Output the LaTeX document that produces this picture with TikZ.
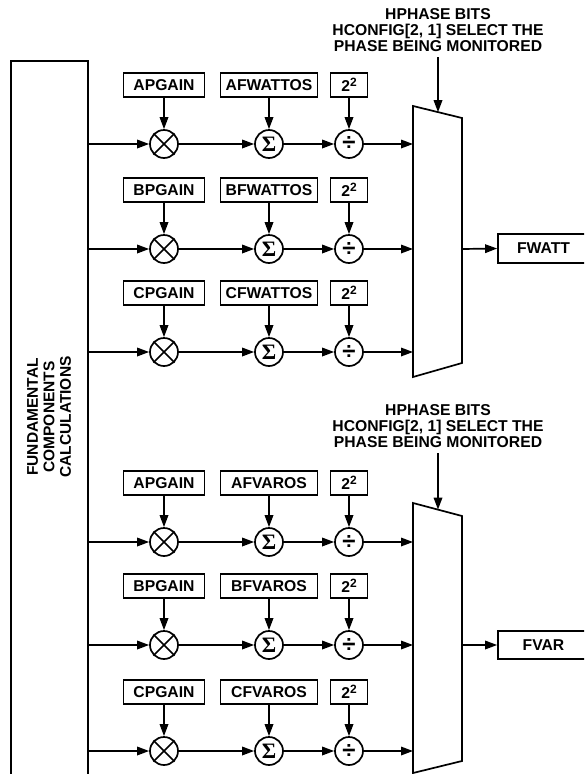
\documentclass[tikz,border=0pt]{standalone}
\usepackage{fontspec}
\setmainfont{Liberation Sans}
\newfontfamily\serifb{Liberation Serif}
\usetikzlibrary{arrows.meta}
\begin{document}
\begin{tikzpicture}[x=1pt,y=-1pt,line width=1.7pt,
  font=\fontsize{15.7}{16}\selectfont\bfseries,
  arr/.style={-{Triangle[length=12pt,width=8.5pt]}},
  reg/.style={draw,minimum height=24pt,inner sep=0pt},
  op/.style={draw,circle,minimum size=28pt,inner sep=0pt},
  lbl/.style={align=center,inner sep=0pt}]
\useasboundingbox (0,0) rectangle (584,774);
\clip (0,0) rectangle (584,774);
% left block (open at the bottom)
\draw (11,790) -- (11,61) -- (88,61) -- (88,790);
\node[lbl,rotate=90,font=\fontsize{15.5}{16.5}\selectfont\bfseries] (fcc) at (49,417)
  {FUNDAMENTAL\\COMPONENTS\\CALCULATIONS};
% rows
\foreach \i/\y/\g/\o in {1/144/APGAIN/AFWATTOS,2/249/BPGAIN/BFWATTOS,3/352/CPGAIN/CFWATTOS,
                         4/542/APGAIN/AFVAROS,5/645/BPGAIN/BFVAROS,6/751/CPGAIN/CFVAROS}{
  \node[op] (mul\i) at (164,\y) {};
  \draw (mul\i.north east) -- (mul\i.south west) (mul\i.north west) -- (mul\i.south east);
  \node[op] (sum\i) at (269,\y) {\serifb\fontsize{22}{22}\selectfont\bfseries Σ};
  \node[op] (div\i) at (349,\y) {\fontsize{24}{24}\selectfont ÷};
  \node[reg,minimum width=81pt] (gain\i) at (164,\y-59) {\g};
  \node[reg,minimum width=97pt] (os\i) at (269,\y-59) {\o};
  \node[reg,minimum width=37pt] (pw\i) at (349,\y-59) {2\raisebox{4.5pt}{\fontsize{12}{12}\selectfont 2}};
  \coordinate (in\i) at (88,\y);
  \coordinate (mx\i) at (413,\y);
  \draw[arr] (in\i) -- (mul\i);
  \draw[arr] (mul\i) -- (sum\i);
  \draw[arr] (sum\i) -- (div\i);
  \draw[arr] (div\i) -- (mx\i);
  \draw[arr] (gain\i) -- (mul\i);
  \draw[arr] (os\i) -- (sum\i);
  \draw[arr] (pw\i) -- (div\i);
}
% multiplexers
\draw (413,106) coordinate (m1tl) -- (462,118) -- (462,363) -- (413,377) -- cycle;
\draw (413,503) coordinate (m2tl) -- (462,516) -- (462,761) -- (413,773) -- cycle;
\coordinate (sel1) at (438,112.2);
\coordinate (sel2) at (438,509.6);
\coordinate (mo1) at (462,249);
\coordinate (mo2) at (462,645);
% select texts
\node[lbl,anchor=north] (hp1) at (438,7.5) {HPHASE BITS\\HCONFIG[2, 1] SELECT THE\\PHASE BEING MONITORED};
\node[lbl,anchor=north] (hp2) at (438,404) {HPHASE BITS\\HCONFIG[2, 1] SELECT THE\\PHASE BEING MONITORED};
\coordinate (hs1) at (438,57);
\coordinate (hs2) at (438,453);
\draw[arr] (hs1) -- (sel1);
\draw[arr] (hs2) -- (sel2);
% outputs
\node[reg,minimum width=91pt,minimum height=29pt] (fwatt) at (543.5,248.5) {FWATT};
\node[reg,minimum width=91pt,minimum height=28pt] (fvar) at (543.5,645) {FVAR};
\draw[arr] (mo1) -- (fwatt.west);
\draw[arr] (mo2) -- (fvar.west);
\end{tikzpicture}
\end{document}
